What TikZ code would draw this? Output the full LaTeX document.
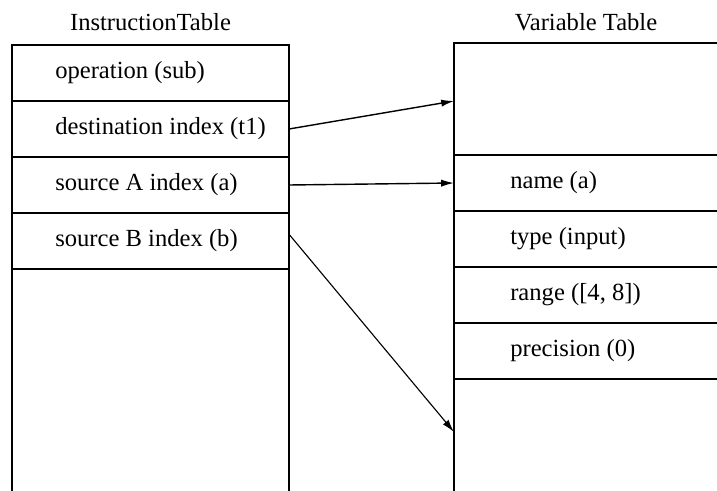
\documentclass[tikz,border=0pt]{standalone}
\usepackage{fontspec}
\setmainfont{Liberation Serif}
\usetikzlibrary{positioning,arrows.meta,calc}
\tikzset{
  cell/.style={draw, line width=1.1pt, outer sep=0pt, inner sep=0pt, minimum height=1.4cm},
  lcell/.style={cell, minimum width=6.925cm},
  rcell/.style={cell, minimum width=7cm},
  entry/.style={font=\fontsize{17.5}{20}\selectfont, anchor=west, inner sep=0pt},
  ttl/.style={font=\fontsize{17.5}{20}\selectfont, inner sep=0pt},
  side/.style={line width=1.1pt},
  ptr/.style={-{Latex[length=3.2mm,width=1.8mm]}, line width=1pt},
}
\begin{document}
\begin{tikzpicture}
\clip (0,0) rectangle (17.925,-12.275);
% instruction table
\node[lcell, anchor=north west] (op) at (0.3,-1.125) {};
\node[lcell, below=0pt of op]   (dst)  {};
\node[lcell, below=0pt of dst]  (srca) {};
\node[lcell, below=0pt of srca] (srcb) {};
\draw[side] (srcb.south west) -- ++(0,-6);
\draw[side] (srcb.south east) -- ++(0,-6);
\node[entry] (t-op)   at ([xshift=1.075cm]op.west)   {operation (sub)};
\node[entry] (t-dst)  at ([xshift=1.075cm]dst.west)  {destination index (t1)};
\node[entry] (t-srca) at ([xshift=1.075cm]srca.west) {source A index (a)};
\node[entry] (t-srcb) at ([xshift=1.075cm]srcb.west) {source B index (b)};
\node[ttl] (itab) at ([yshift=0.575cm]op.north) {InstructionTable};
% variable table
\node[rcell, minimum height=2.8cm, anchor=north west] (vtop) at (11.35,-1.075) {};
\node[rcell, below=0pt of vtop] (vname) {};
\node[rcell, below=0pt of vname] (vtype) {};
\node[rcell, below=0pt of vtype] (vrange) {};
\node[rcell, below=0pt of vrange] (vprec) {};
\draw[side] (vprec.south west) -- ++(0,-4);
\node[entry] (t-name)  at ([xshift=1.4cm]vname.west)  {name (a)};
\node[entry] (t-type)  at ([xshift=1.4cm]vtype.west)  {type (input)};
\node[entry] (t-range) at ([xshift=1.4cm]vrange.west) {range ([4, 8])};
\node[entry] (t-prec)  at ([xshift=1.4cm]vprec.west)  {precision (0)};
\node[ttl] (vtab) at ([xshift=3.3cm,yshift=0.525cm]vtop.north west) {Variable Table};
% pointers
\coordinate (vfree) at ([yshift=-1.325cm]vprec.south west);
\draw[ptr] (dst.east) -- ([yshift=-0.05cm]vtop.west);
\draw[ptr] (srca.east) -- (vname.west);
\draw[ptr, line width=0.8pt] ([yshift=0.17cm]srcb.east) -- (vfree);
\end{tikzpicture}
\end{document}
